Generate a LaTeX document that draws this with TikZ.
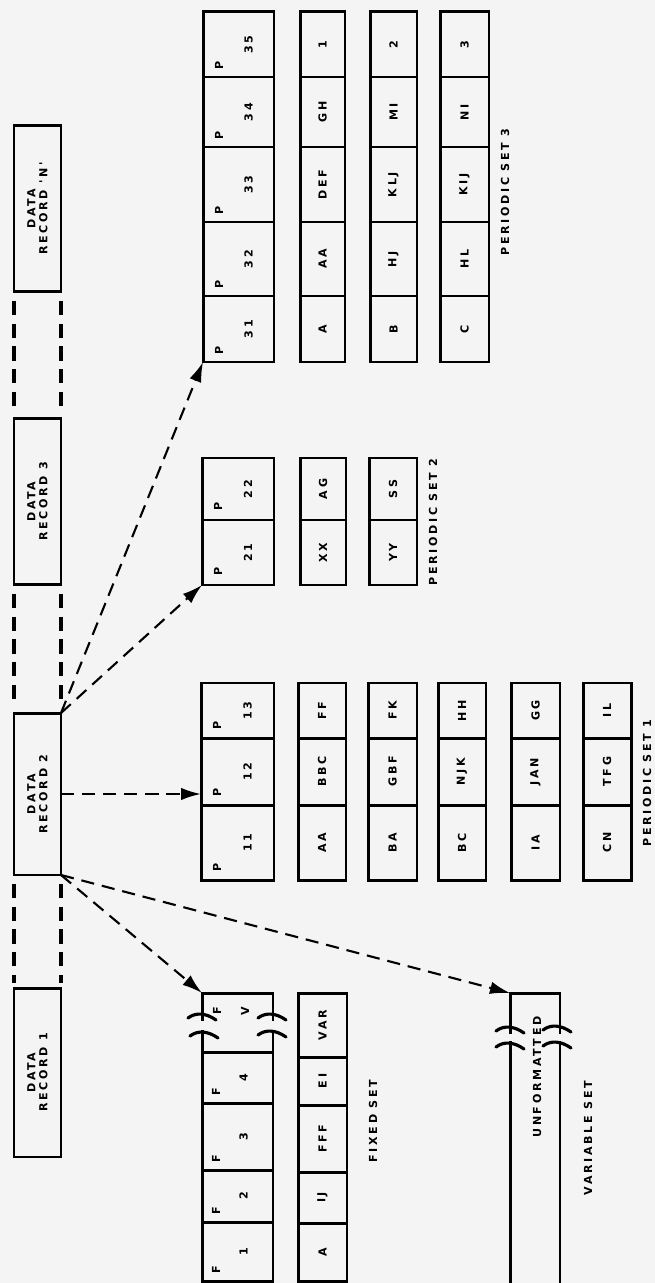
\documentclass[tikz,border=0pt]{standalone}
\usepackage{fontspec}
\newfontfamily\lbl[LetterSpace=24]{DejaVu Sans}
\usetikzlibrary{calc,arrows.meta}
\definecolor{paper}{gray}{0.955}

\tikzset{
  box/.style={draw, line width=1.7pt, rotate=90, inner sep=0pt, outer sep=0pt, align=center,
    font={\lbl\bfseries\fontsize{6.3}{6.8}\selectfont}},
  tag/.style={rotate=90, inner sep=0pt, font={\lbl\bfseries\fontsize{6.3}{6.8}\selectfont}},
  link/.style={line width=1.2pt, dash pattern=on 7.5pt off 4.5pt, -{Latex[length=0.4cm,width=0.25cm]}},
  chain/.style={line width=1.8pt, dash pattern=on 8pt off 5pt, shorten <=5pt, shorten >=3pt},
  brk/.style={line width=1.8pt, line cap=round},
}

\begin{document}
\begin{tikzpicture}[x=0.02cm, y=-0.02cm]
  \useasboundingbox (0,0) rectangle (655,1283);
  \fill[paper] (0,0) rectangle (655,1283);

  % data records
  \node[box, minimum width=3.34cm, minimum height=0.94cm] (recN) at (37.5,208.5) {DATA\\RECORD 'N'};
  \node[box, minimum width=3.34cm, minimum height=0.94cm] (rec3) at (37.5,501.5) {DATA\\RECORD 3};
  \node[box, minimum width=3.24cm, minimum height=0.94cm] (rec2) at (37.5,794) {DATA\\RECORD 2};
  \node[box, minimum width=3.38cm, minimum height=0.94cm] (rec1) at (37.5,1072.5) {DATA\\RECORD 1};
  \foreach \u/\v in {recN/rec3, rec3/rec2, rec2/rec1} {
    \draw[chain] (\u.north west) -- (\v.north east);
    \draw[chain] (\u.south west) -- (\v.south east);
  }

  % periodic set 3
  \foreach \n/\lo/\hi [count=\i] in {31/296/362,32/222/296,33/147/222,34/77/147,35/12/77} {
    \node[box, minimum width={(\hi-\lo)*0.02cm}, minimum height=1.42cm] (ps3a\i) at (238.5,{(\lo+\hi)/2}) {};
    \node[tag] at ($(ps3a\i.north west)+(16,-12)$) {P};
    \node[tag] at ($(ps3a\i.center)+(10,0)$) {\n};
  }
  \foreach \txt/\lo/\hi [count=\i] in {A/296/362,AA/222/296,DEF/147/222,GH/77/147,1/12/77}
    \node[box, minimum width={(\hi-\lo)*0.02cm}, minimum height=0.9cm] (ps3b\i) at (322.5,{(\lo+\hi)/2}) {\txt};
  \foreach \txt/\lo/\hi [count=\i] in {B/296/362,HJ/222/296,KLJ/147/222,MI/77/147,2/12/77}
    \node[box, minimum width={(\hi-\lo)*0.02cm}, minimum height=0.94cm] (ps3c\i) at (393.5,{(\lo+\hi)/2}) {\txt};
  \foreach \txt/\lo/\hi [count=\i] in {C/296/362,HL/222/296,KIJ/147/222,NI/77/147,3/12/77}
    \node[box, minimum width={(\hi-\lo)*0.02cm}, minimum height=0.98cm] (ps3d\i) at (464.5,{(\lo+\hi)/2}) {\txt};
  \node[tag] (lps3) at (505,192) {PERIODIC SET 3};

  % periodic set 2
  \foreach \n/\lo/\hi [count=\i] in {21/520/585,22/458/520} {
    \node[box, minimum width={(\hi-\lo)*0.02cm}, minimum height=1.44cm] (ps2a\i) at (238,{(\lo+\hi)/2}) {};
    \node[tag] at ($(ps2a\i.north west)+(16,-14)$) {P};
    \node[tag] at ($(ps2a\i.center)+(10,0)$) {\n};
  }
  \foreach \txt/\lo/\hi [count=\i] in {XX/520/585,AG/458/520}
    \node[box, minimum width={(\hi-\lo)*0.02cm}, minimum height=0.92cm] (ps2b\i) at (323,{(\lo+\hi)/2}) {\txt};
  \foreach \txt/\lo/\hi [count=\i] in {YY/520/585,SS/458/520}
    \node[box, minimum width={(\hi-\lo)*0.02cm}, minimum height=0.96cm] (ps2c\i) at (393,{(\lo+\hi)/2}) {\txt};
  \node[tag] (lps2) at (433,522) {PERIODIC SET 2};

  % periodic set 1
  \foreach \n/\lo/\hi [count=\i] in {11/805/880,12/738/805,13/683/738} {
    \node[box, minimum width={(\hi-\lo)*0.02cm}, minimum height=1.46cm] (ps1a\i) at (237.5,{(\lo+\hi)/2}) {};
    \node[tag] at ($(ps1a\i.north west)+(16,-13)$) {P};
    \node[tag] at ($(ps1a\i.center)+(10,0)$) {\n};
  }
  \foreach \txt/\lo/\hi [count=\i] in {AA/805/880,BBC/738/805,FF/683/738}
    \node[box, minimum width={(\hi-\lo)*0.02cm}, minimum height=0.96cm] (ps1b\i) at (322,{(\lo+\hi)/2}) {\txt};
  \foreach \txt/\lo/\hi [count=\i] in {BA/805/880,GBF/738/805,FK/683/738}
    \node[box, minimum width={(\hi-\lo)*0.02cm}, minimum height=0.98cm] (ps1c\i) at (392.5,{(\lo+\hi)/2}) {\txt};
  \foreach \txt/\lo/\hi [count=\i] in {BC/805/880,NJK/738/805,HH/683/738}
    \node[box, minimum width={(\hi-\lo)*0.02cm}, minimum height=0.96cm] (ps1d\i) at (462,{(\lo+\hi)/2}) {\txt};
  \foreach \txt/\lo/\hi [count=\i] in {IA/805/880,JAN/738/805,GG/683/738}
    \node[box, minimum width={(\hi-\lo)*0.02cm}, minimum height=0.98cm] (ps1e\i) at (535.5,{(\lo+\hi)/2}) {\txt};
  \foreach \txt/\lo/\hi [count=\i] in {CN/805/880,TFG/738/805,IL/683/738}
    \node[box, minimum width={(\hi-\lo)*0.02cm}, minimum height=0.96cm] (ps1f\i) at (607,{(\lo+\hi)/2}) {\txt};
  \node[tag] (lps1) at (647,783) {PERIODIC SET 1};

  % fixed set
  \foreach \n/\lo/\hi [count=\i] in {1/1222/1281,2/1170/1222,3/1103/1170,4/1052/1103} {
    \node[box, minimum width={(\hi-\lo)*0.02cm}, minimum height=1.42cm] (fsa\i) at (237.5,{(\lo+\hi)/2}) {};
    \node[tag] at ($(fsa\i.north west)+(14,-11)$) {F};
    \node[tag] at ($(fsa\i.center)+(6,0)$) {\n};
  }
  \node[box, minimum width=1.18cm, minimum height=1.42cm] (fsa5) at (237.5,1022.5) {};
  \node[tag] at (217,1011) {F};
  \node[tag] at (245,1011) {V};
  \foreach \txt/\lo/\hi [count=\i] in {A/1223/1281,IJ/1172/1223,FFF/1105/1172,EI/1057/1105,VAR/993/1057}
    \node[box, minimum width={(\hi-\lo)*0.02cm}, minimum height=0.98cm] (fsb\i) at (322.5,{(\lo+\hi)/2}) {\txt};
  \node[tag] (lfs) at (373,1121) {FIXED SET};

  % variable set
  \node[box, minimum width=5.94cm, minimum height=1cm] (var) at (535,1141.5) {};
  \node[tag] (unf) at (537,1077) {UNFORMATTED};
  \node[tag] (lvs) at (588,1138) {VARIABLE SET};

  % breaks
  \fill[paper] (197,1021) rectangle (207,1030);
  \fill[paper] (268,1021) rectangle (278,1030);
  \fill[paper] (505,1034) rectangle (515,1041);
  \fill[paper] (555,1034) rectangle (565,1041);
  \foreach \sx/\sy in {202/1016, 204/1034, 272/1016, 272/1033, 510/1029, 510/1045, 557/1028, 557/1044}
    \draw[brk] (\sx-14,\sy+2) .. controls (\sx-6,\sy-4) and (\sx+4,\sy-3) .. (\sx+14,\sy+4);

  % links
  \draw[link] (rec2.south east) -- (ps3a1.north west);
  \draw[link] (rec2.south east) -- (ps2a1.north west);
  \draw[link] (rec2.south) -- (rec2.south -| ps1a2.north);
  \draw[link] (rec2.south west) -- (fsa5.north east);
  \draw[link] (rec2.south west) -- (var.north east);
\end{tikzpicture}
\end{document}
